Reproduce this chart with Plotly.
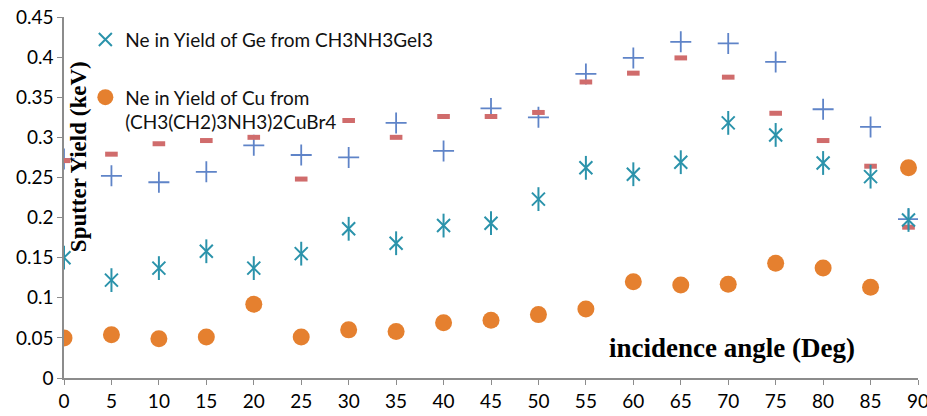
import plotly.graph_objects as go

angles = [0, 5, 10, 15, 20, 25, 30, 35, 40, 45, 50, 55, 60, 65, 70, 75, 80, 85, 89]

ge_yield = [0.150, 0.122, 0.137, 0.158, 0.137, 0.155, 0.186, 0.168, 0.190, 0.193,
            0.223, 0.262, 0.254, 0.269, 0.318, 0.303, 0.268, 0.251, 0.197]
cu_yield = [0.050, 0.054, 0.049, 0.051, 0.092, 0.051, 0.060, 0.058, 0.069, 0.072,
            0.079, 0.086, 0.120, 0.116, 0.117, 0.143, 0.137, 0.113, 0.262]
blue_plus = [0.273, 0.252, 0.244, 0.257, 0.290, 0.278, 0.275, 0.318, 0.283, 0.336,
             0.325, 0.379, 0.399, 0.419, 0.417, 0.394, 0.335, 0.313, 0.198]
red_dash = [0.271, 0.279, 0.292, 0.296, 0.300, 0.248, 0.321, 0.300, 0.326, 0.326,
            0.331, 0.369, 0.380, 0.399, 0.375, 0.330, 0.296, 0.264, 0.188]

name_ge = "Ne in Yield of Ge from CH3NH3GeI3"
name_cu = "Ne in Yield of Cu from<br>(CH3(CH2)3NH3)2CuBr4"

x_ticks = list(range(0, 91, 5))
y_ticks = [0, 0.05, 0.1, 0.15, 0.2, 0.25, 0.3, 0.35, 0.4, 0.45]
y_tick_text = ["0", "0.05", "0.1", "0.15", "0.2", "0.25", "0.3", "0.35", "0.4", "0.45"]

TEAL = "#2b93ab"
ORANGE = "#e5802f"
BLUE = "#5f84c8"
RED = "#d06c6c"
FONT = "Lato"

fig = go.Figure()

fig.add_trace(go.Scatter(
    x=angles, y=blue_plus, mode="markers", showlegend=False,
    marker=dict(symbol="cross-thin-open", size=15, color=BLUE, line=dict(color=BLUE, width=1.8)),
))
fig.add_trace(go.Scatter(
    x=angles, y=red_dash, mode="markers", showlegend=False,
    marker=dict(symbol="line-ew-open", size=9, color=RED, line=dict(color=RED, width=5)),
))
fig.add_trace(go.Scatter(
    x=angles, y=ge_yield, mode="markers", name=name_ge, legendgroup="ge",
    marker=dict(symbol="x-thin-open", size=13, color=TEAL, line=dict(color=TEAL, width=2)),
))
fig.add_trace(go.Scatter(
    x=angles, y=ge_yield, mode="markers", showlegend=False, legendgroup="ge",
    marker=dict(symbol="line-ns-open", size=17, color=TEAL, line=dict(color=TEAL, width=2)),
))
fig.add_trace(go.Scatter(
    x=angles, y=cu_yield, mode="markers", name=name_cu, legendgroup="cu",
    marker=dict(symbol="circle", size=17, color=ORANGE, line=dict(width=0)),
))

fig.update_layout(
    width=927, height=416,
    margin=dict(l=64, r=9, t=17, b=38, autoexpand=False),
    paper_bgcolor="white", plot_bgcolor="white",
    font=dict(family=FONT, size=19, color="#000000"),
    legend=dict(
        x=0.025, y=0.99, xanchor="left", yanchor="top",
        bgcolor="rgba(0,0,0,0)", font=dict(family=FONT, size=19, color="#111111"),
        traceorder="grouped", tracegroupgap=30, valign="top",
        itemsizing="trace",
    ),
    xaxis=dict(
        range=[0, 90], tickmode="array", tickvals=x_ticks, automargin=False,
        showgrid=False, zeroline=False, showline=True, linecolor="#8c8c8c", linewidth=1.5,
        ticks="outside", ticklen=5, tickcolor="#8c8c8c", ticklabeloverflow="allow",
        tickfont=dict(family=FONT, size=19, color="#000000"),
    ),
    yaxis=dict(
        range=[0, 0.45], tickmode="array", tickvals=y_ticks, ticktext=y_tick_text, automargin=False,
        showgrid=False, zeroline=False, showline=True, linecolor="#8c8c8c", linewidth=1.5,
        ticks="outside", ticklen=5, tickcolor="#8c8c8c", ticklabeloverflow="allow",
        tickfont=dict(family=FONT, size=19, color="#000000"),
    ),
    annotations=[
        dict(text="<b>Sputter Yield (keV)</b>", textangle=-90,
             xref="paper", yref="paper", x=0.0165, y=0.612,
             xanchor="center", yanchor="middle", showarrow=False,
             font=dict(family="Liberation Serif", size=23, color="#000000")),
        dict(text="<b>incidence angle (Deg)</b>",
             xref="paper", yref="paper", x=0.782, y=0.083,
             xanchor="center", yanchor="middle", showarrow=False,
             font=dict(family="Liberation Serif", size=27, color="#000000")),
    ],
)

fig.write_html("out.html")
